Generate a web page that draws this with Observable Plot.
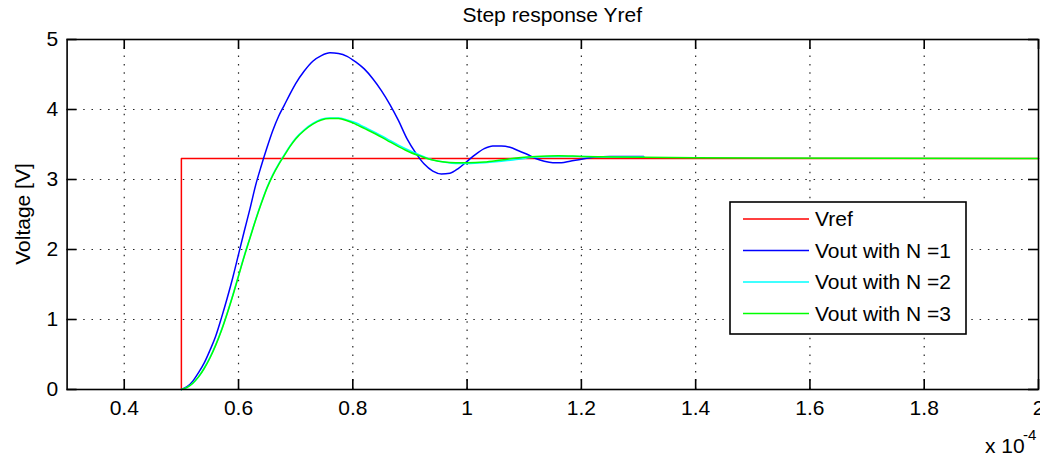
<!DOCTYPE html>
<html>
<head>
<meta charset="utf-8">
<script src="https://cdn.jsdelivr.net/npm/d3@7"></script>
<script src="https://cdn.jsdelivr.net/npm/@observablehq/plot@0.6"></script>
<style>
  html, body { margin: 0; padding: 0; background: #fff; }
  #chart { width: 1040px; height: 459px; }
</style>
</head>
<body>
<div id="chart"></div>
<script>
// ---- Data (time in units of 1e-4 s, voltage in V) ----
const xTicks = [0.4, 0.6, 0.8, 1.0, 1.2, 1.4, 1.6, 1.8, 2.0];
const xTickLabels = ["0.4", "0.6", "0.8", "1", "1.2", "1.4", "1.6", "1.8", "2"];
const yTicks = [0, 1, 2, 3, 4, 5];
const yTickLabels = ["0", "1", "2", "3", "4", "5"];

const seriesNames = ["Vref", "Vout with N =1", "Vout with N =2", "Vout with N =3"];
const seriesColors = ["#ff0000", "#0000ff", "#00ffff", "#00ff00"];

const vrefT = [0.5, 0.5, 2.0];
const vrefV = [0, 3.3, 3.3];

const n1T = [0.500, 0.510, 0.520, 0.530, 0.540, 0.550, 0.560, 0.570, 0.580, 0.590, 0.600, 0.610, 0.620, 0.630, 0.640, 0.650, 0.660, 0.670, 0.680, 0.690, 0.700, 0.715, 0.730, 0.745, 0.760, 0.775, 0.790, 0.805, 0.820, 0.835, 0.850, 0.865, 0.880, 0.895, 0.910, 0.925, 0.940, 0.955, 0.970, 0.985, 1.000, 1.015, 1.030, 1.045, 1.060, 1.075, 1.090, 1.105, 1.120, 1.135, 1.150, 1.165, 1.180, 1.200, 1.225, 1.250, 1.280, 1.309];
const n1V = [0.00, 0.04, 0.12, 0.24, 0.38, 0.56, 0.76, 1.02, 1.30, 1.60, 1.93, 2.26, 2.58, 2.92, 3.20, 3.46, 3.70, 3.90, 4.06, 4.22, 4.37, 4.55, 4.69, 4.77, 4.81, 4.80, 4.76, 4.68, 4.58, 4.44, 4.27, 4.07, 3.84, 3.58, 3.38, 3.22, 3.12, 3.08, 3.09, 3.16, 3.26, 3.36, 3.44, 3.48, 3.48, 3.46, 3.41, 3.36, 3.30, 3.26, 3.24, 3.24, 3.26, 3.29, 3.32, 3.33, 3.33, 3.33];

const n2T = [0.500, 0.510, 0.520, 0.530, 0.540, 0.550, 0.560, 0.570, 0.580, 0.590, 0.600, 0.610, 0.620, 0.630, 0.640, 0.650, 0.660, 0.670, 0.680, 0.690, 0.700, 0.715, 0.730, 0.745, 0.760, 0.775, 0.790, 0.805, 0.820, 0.840, 0.860, 0.880, 0.900, 0.920, 0.940, 0.960, 0.980, 1.000, 1.030, 1.060, 1.090, 1.120, 1.160, 1.200, 1.260, 1.309];
const n2V = [0.00, 0.03, 0.09, 0.18, 0.31, 0.46, 0.64, 0.85, 1.09, 1.35, 1.63, 1.91, 2.17, 2.43, 2.67, 2.89, 3.07, 3.22, 3.35, 3.48, 3.59, 3.71, 3.80, 3.86, 3.88, 3.88, 3.85, 3.81, 3.75, 3.67, 3.58, 3.49, 3.41, 3.34, 3.28, 3.25, 3.23, 3.23, 3.24, 3.26, 3.29, 3.32, 3.33, 3.33, 3.32, 3.32];

const n3T = [0.500, 0.510, 0.520, 0.530, 0.540, 0.550, 0.560, 0.570, 0.580, 0.590, 0.600, 0.610, 0.620, 0.630, 0.640, 0.650, 0.660, 0.670, 0.680, 0.690, 0.700, 0.715, 0.730, 0.745, 0.760, 0.775, 0.790, 0.805, 0.820, 0.840, 0.860, 0.880, 0.900, 0.920, 0.940, 0.960, 0.980, 1.000, 1.030, 1.060, 1.090, 1.120, 1.160, 1.200, 1.260, 1.400, 2.000];
const n3V = [0.00, 0.03, 0.09, 0.18, 0.30, 0.45, 0.63, 0.84, 1.08, 1.34, 1.62, 1.90, 2.16, 2.42, 2.66, 2.88, 3.06, 3.21, 3.34, 3.47, 3.58, 3.70, 3.79, 3.85, 3.87, 3.87, 3.84, 3.79, 3.73, 3.65, 3.56, 3.47, 3.39, 3.33, 3.28, 3.25, 3.24, 3.24, 3.25, 3.28, 3.31, 3.33, 3.34, 3.33, 3.32, 3.31, 3.30];

// ---- Build tables ----
const toRows = (T, V) => T.map((t, i) => ({t, v: V[i]}));
const vref = toRows(vrefT, vrefV);
const n1 = toRows(n1T, n1V);
const n2 = toRows(n2T, n2V);
const n3 = toRows(n3T, n3V);

// ---- Layout ----
const W = 1040, H = 459;
const ml = 66.6, mr = 2, mt = 39, mb = 70;
const plotW = W - ml - mr, plotH = H - mt - mb;
const tickLen = 10;
const font = "'Liberation Sans', Arial, Helvetica, sans-serif";

const grid = {stroke: "#000", strokeWidth: 1.2, strokeDasharray: "1.5,6.8", strokeOpacity: 0.85};
const tickStyle = {stroke: "#000", strokeWidth: 1.6};

const chart = Plot.plot({
  width: W,
  height: H,
  marginLeft: ml,
  marginRight: mr,
  marginTop: mt,
  marginBottom: mb,
  style: {fontFamily: font, fontSize: "21px", color: "#000", background: "#fff", overflow: "visible"},
  x: {domain: [0.3, 2.0]},
  y: {domain: [0, 5]},
  marks: [
    Plot.ruleX(xTicks.slice(0, -1), grid),
    Plot.ruleY(yTicks.slice(1, -1), grid),
    Plot.line(vref, {x: "t", y: "v", stroke: seriesColors[0], strokeWidth: 1.5}),
    Plot.line(n1, {x: "t", y: "v", stroke: seriesColors[1], strokeWidth: 1.5, curve: "monotone-x"}),
    Plot.line(n2, {x: "t", y: "v", stroke: seriesColors[2], strokeWidth: 1.5, curve: "monotone-x"}),
    Plot.line(n3, {x: "t", y: "v", stroke: seriesColors[3], strokeWidth: 1.5, curve: "monotone-x"}),
    // inward ticks on all four sides
    Plot.ruleX(xTicks, {...tickStyle, insetTop: plotH - tickLen}),
    Plot.ruleX(xTicks, {...tickStyle, insetBottom: plotH - tickLen}),
    Plot.ruleY(yTicks, {...tickStyle, insetRight: plotW - tickLen}),
    Plot.ruleY(yTicks, {...tickStyle, insetLeft: plotW - tickLen}),
    Plot.frame({stroke: "#000", strokeWidth: 1.6}),
    Plot.axisX({ticks: xTicks, tickSize: 0, tickPadding: 11, label: null,
      tickFormat: d => xTickLabels[xTicks.indexOf(d)]}),
    Plot.axisY({ticks: yTicks, tickSize: 0, tickPadding: 9, label: null,
      tickFormat: d => yTickLabels[yTicks.indexOf(d)]})
  ]
});

document.getElementById("chart").appendChild(chart);

// ---- Annotations: title, y label, exponent, legend ----
const svg = d3.select(chart);
const ann = svg.append("g").attr("font-family", font).attr("fill", "#000");

ann.append("text")
  .attr("x", ml + plotW / 2).attr("y", 22)
  .attr("text-anchor", "middle").attr("font-size", 21)
  .text("Step response Yref");

ann.append("text")
  .attr("transform", `translate(30,${mt + plotH / 2}) rotate(-90)`)
  .attr("text-anchor", "middle").attr("font-size", 21)
  .text("Voltage [V]");

ann.append("text").attr("x", 985).attr("y", 453).attr("text-anchor", "start")
  .attr("font-size", 21).text("x 10");
ann.append("text").attr("x", 1023).attr("y", 440).attr("text-anchor", "start")
  .attr("font-size", 15).text("-4");

const lg = svg.append("g").attr("font-family", font);
lg.append("rect")
  .attr("x", 730).attr("y", 202).attr("width", 236).attr("height", 132)
  .attr("fill", "#fff").attr("stroke", "#000").attr("stroke-width", 1.6);
seriesNames.forEach((name, i) => {
  const y = 219 + i * 31.5;
  lg.append("line").attr("x1", 743).attr("x2", 809).attr("y1", y).attr("y2", y)
    .attr("stroke", seriesColors[i]).attr("stroke-width", 1.6);
  lg.append("text").attr("x", 815).attr("y", y).attr("dy", "0.35em")
    .attr("text-anchor", "start").attr("font-size", 21).attr("fill", "#000").text(name);
});
</script>
</body>
</html>
